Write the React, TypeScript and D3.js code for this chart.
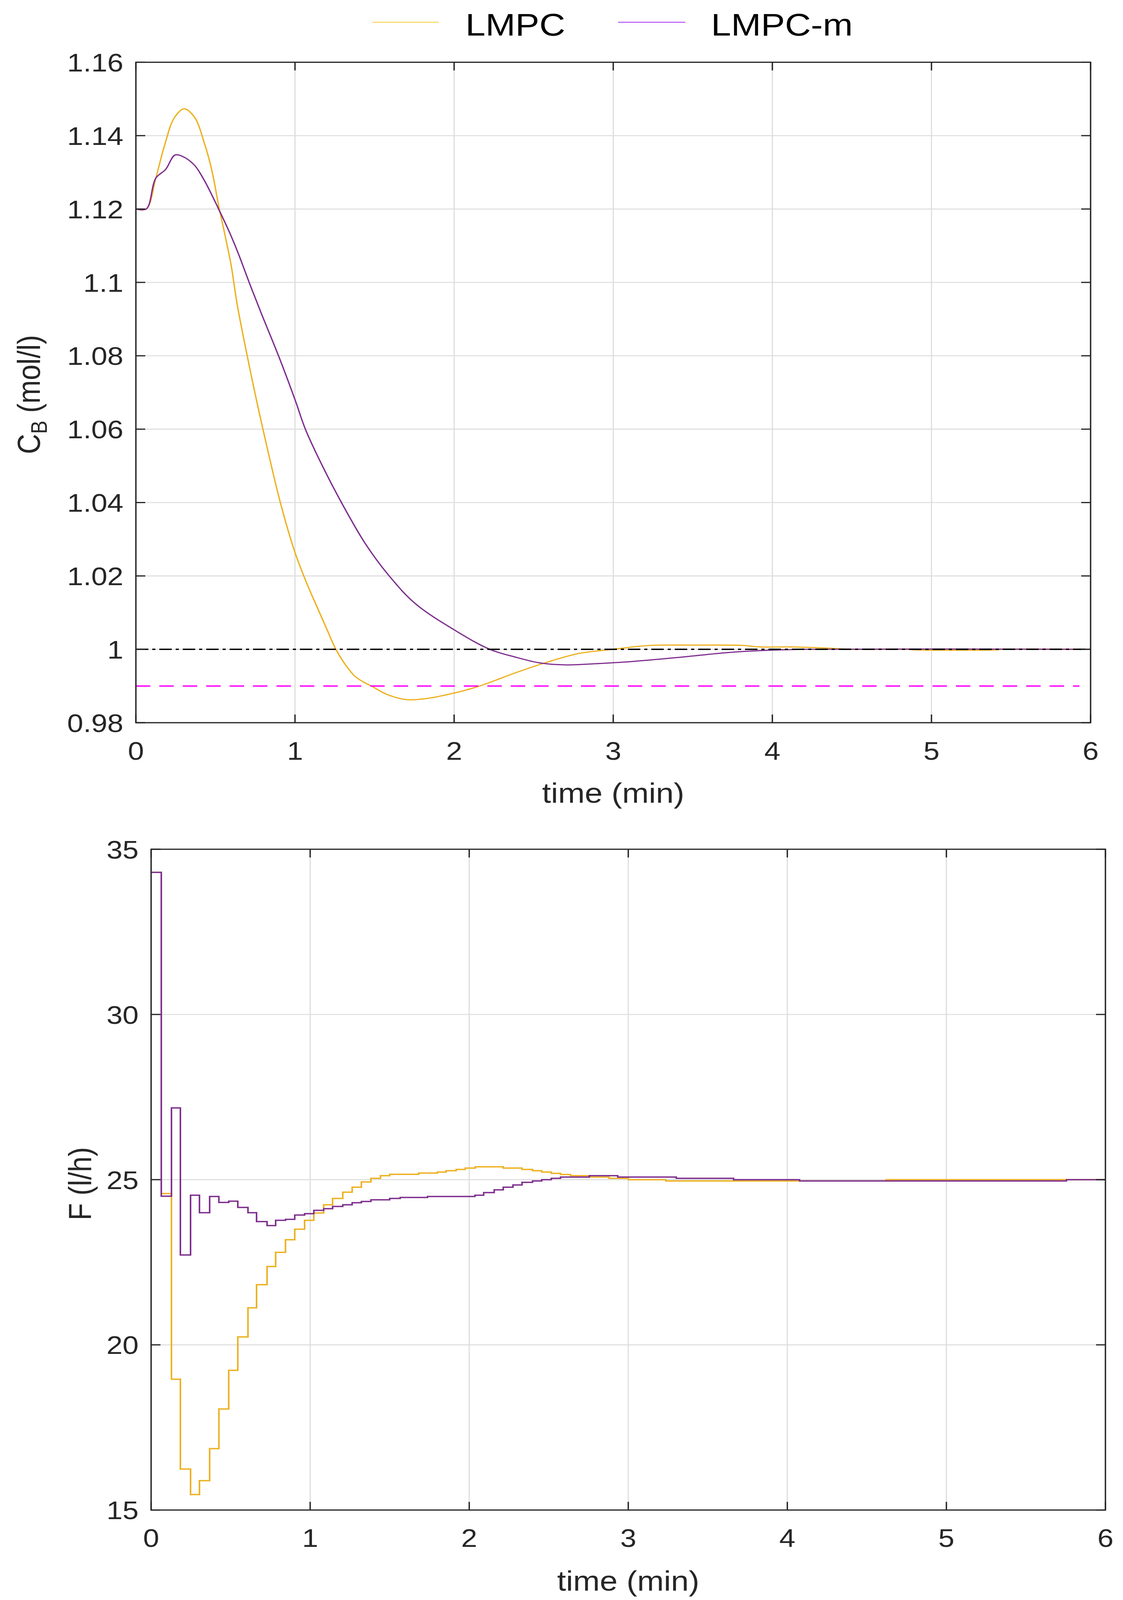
import React, { useEffect, useState } from 'react';
import * as d3 from 'd3';

const W = 2876;
const H = 4678;

// ---------- Top panel: C_B (mol/l) ----------
const timeCB_LMPC = [0, 0.065, 0.125, 0.18, 0.242, 0.304, 0.37, 0.43, 0.476, 0.523, 0.562, 0.599, 0.637, 0.702, 0.749, 0.8, 0.852, 0.908, 0.993, 1.067, 1.136, 1.2, 1.257, 1.32, 1.378, 1.43, 1.48, 1.58, 1.7, 1.82, 1.98, 2.16, 2.385, 2.566, 2.788, 3.0, 3.23, 3.51, 3.815, 3.92, 4.12, 4.36, 4.5, 4.85, 4.9, 5.4, 5.45, 6.0];
const cb_LMPC = [1.12, 1.12, 1.1284, 1.1373, 1.1449, 1.1473, 1.1449, 1.138, 1.1308, 1.1203, 1.1125, 1.1046, 1.0939, 1.0795, 1.0697, 1.0597, 1.0499, 1.04, 1.0273, 1.0187, 1.0118, 1.0055, 1.0, 0.9956, 0.9926, 0.9911, 0.99, 0.98767, 0.9863, 0.98655, 0.98788, 0.99, 0.9936, 0.99624, 0.9989, 1.0, 1.00106, 1.00114, 1.00106, 1.00065, 1.00065, 1.0003, 1.0, 1.0, 0.99985, 0.99985, 1.0, 1.0];

const timeCB_LMPCm = [0, 0.065, 0.125, 0.187, 0.245, 0.29, 0.367, 0.43, 0.49, 0.52, 0.593, 0.647, 0.712, 0.787, 0.9, 1.002, 1.067, 1.18, 1.292, 1.442, 1.592, 1.76, 2.02, 2.224, 2.385, 2.546, 2.707, 2.87, 3.11, 3.43, 3.715, 3.956, 4.2, 6.0];
const cb_LMPCm = [1.12, 1.12, 1.1284, 1.1308, 1.1347, 1.1344, 1.132, 1.1278, 1.1227, 1.12, 1.1132, 1.1075, 1.1, 1.0917, 1.0796, 1.0678, 1.0598, 1.0493, 1.04, 1.0288, 1.02, 1.0123, 1.0048, 1.0, 0.99788, 0.99624, 0.99575, 0.99604, 0.99665, 0.99788, 0.9991, 0.99971, 1.0, 1.0];

const cbSetpoint = 1.0;
const cbBound = 0.99;
const boundTimeRange = [0, 5.93];
const cbTicks = [0.98, 1.0, 1.02, 1.04, 1.06, 1.08, 1.1, 1.12, 1.14, 1.16];
const cbTickLabels = ['0.98', '1', '1.02', '1.04', '1.06', '1.08', '1.1', '1.12', '1.14', '1.16'];

// ---------- Bottom panel: F (l/h), piecewise-constant inputs ----------
const stepTime_LMPC = [0, 0.064, 0.128, 0.184, 0.248, 0.304, 0.368, 0.426, 0.488, 0.545, 0.609, 0.663, 0.729, 0.783, 0.845, 0.903, 0.965, 1.023, 1.085, 1.141, 1.205, 1.264, 1.322, 1.382, 1.442, 1.5, 1.682, 1.8, 1.854, 1.918, 1.975, 2.038, 2.214, 2.332, 2.398, 2.456, 2.516, 2.574, 2.637, 2.761, 2.879, 3.0, 3.236, 4.621];
const F_LMPC = [34.3, 24.58, 18.96, 16.24, 15.47, 15.89, 16.86, 18.06, 19.23, 20.24, 21.12, 21.82, 22.37, 22.8, 23.18, 23.5, 23.77, 23.99, 24.24, 24.43, 24.62, 24.77, 24.93, 25.04, 25.12, 25.16, 25.2, 25.23, 25.27, 25.31, 25.35, 25.39, 25.35, 25.31, 25.27, 25.23, 25.19, 25.155, 25.12, 25.08, 25.04, 25.0, 24.96, 25.0];

const stepTime_LMPCm = [0, 0.064, 0.128, 0.184, 0.248, 0.304, 0.368, 0.426, 0.488, 0.545, 0.609, 0.663, 0.729, 0.783, 0.845, 0.903, 0.965, 1.023, 1.085, 1.141, 1.205, 1.264, 1.322, 1.382, 1.5, 1.566, 1.738, 2.036, 2.091, 2.157, 2.214, 2.275, 2.332, 2.398, 2.456, 2.516, 2.574, 2.755, 2.934, 3.302, 3.662, 4.077, 5.755];
const F_LMPCm = [34.3, 24.5, 27.17, 22.72, 24.53, 24.0, 24.49, 24.31, 24.35, 24.16, 24.0, 23.73, 23.61, 23.77, 23.8, 23.93, 23.97, 24.07, 24.12, 24.19, 24.24, 24.3, 24.34, 24.39, 24.43, 24.46, 24.49, 24.53, 24.61, 24.69, 24.77, 24.84, 24.92, 24.96, 25.0, 25.04, 25.08, 25.12, 25.08, 25.04, 25.0, 24.96, 25.0];

const fTicks = [15, 20, 25, 30, 35];
const timeTicks = [0, 1, 2, 3, 4, 5, 6];
const timeEnd = 6;

const seriesNames = ['LMPC', 'LMPC-m'];

// ---------- styling ----------
const FONT = "'Liberation Sans', Arial, Helvetica, sans-serif";
const AXIS = '#262626';
const GRID = '#dedede';
const C_LMPC = '#EDB120';
const C_LMPCm = '#7E2F8E';
const LEGEND_COLORS = ['#F7C81A', '#9B12F2'];

type Frame = { x0: number; x1: number; y0: number; y1: number };

const topFrame: Frame = { x0: 348, x1: 2793, y0: 182, y1: 2113 };
const botFrame: Frame = { x0: 387, x1: 2831, y0: 2483, y1: 4415 };

const TICK_LEN = 24;
const TICK_FS = 74;
const LABEL_FS = 82;

function Axes({ f, y, yTicks, yLabels, x }: { f: Frame; y: d3.ScaleLinear<number, number>; yTicks: number[]; yLabels: string[]; x: d3.ScaleLinear<number, number> }) {
  return (
    <g>
      {timeTicks.map((t) => (
        <g key={'xt' + t}>
          <line x1={x(t)} x2={x(t)} y1={f.y1} y2={f.y1 - TICK_LEN} stroke={AXIS} strokeWidth={3.5} />
          <line x1={x(t)} x2={x(t)} y1={f.y0} y2={f.y0 + TICK_LEN} stroke={AXIS} strokeWidth={3.5} />
          <text x={x(t)} y={f.y1 + 108} textAnchor="middle" fontSize={TICK_FS} fill={AXIS} fontFamily={FONT}>{String(t)}</text>
        </g>
      ))}
      {yTicks.map((v, i) => (
        <g key={'yt' + i}>
          <line x1={f.x0} x2={f.x0 + TICK_LEN} y1={y(v)} y2={y(v)} stroke={AXIS} strokeWidth={3.5} />
          <line x1={f.x1} x2={f.x1 - TICK_LEN} y1={y(v)} y2={y(v)} stroke={AXIS} strokeWidth={3.5} />
          <text x={f.x0 - 32} y={y(v) + 27} textAnchor="end" fontSize={TICK_FS} fill={AXIS} fontFamily={FONT}>{yLabels[i]}</text>
        </g>
      ))}
      <rect x={f.x0} y={f.y0} width={f.x1 - f.x0} height={f.y1 - f.y0} fill="none" stroke={AXIS} strokeWidth={3.5} />
    </g>
  );
}

function Grid({ f, y, yTicks, x }: { f: Frame; y: d3.ScaleLinear<number, number>; yTicks: number[]; x: d3.ScaleLinear<number, number> }) {
  return (
    <g>
      {timeTicks.map((t) => (
        <line key={'gx' + t} x1={x(t)} x2={x(t)} y1={f.y0} y2={f.y1} stroke={GRID} strokeWidth={3} />
      ))}
      {yTicks.map((v, i) => (
        <line key={'gy' + i} x1={f.x0} x2={f.x1} y1={y(v)} y2={y(v)} stroke={GRID} strokeWidth={3} />
      ))}
    </g>
  );
}

export default function App() {
  // the browser viewport may be shorter than the requested page; fit the whole chart into it
  const [viewH, setViewH] = useState<number>(Math.min(H, typeof window !== 'undefined' ? window.innerHeight || H : H));
  useEffect(() => {
    document.body.style.margin = '0';
    document.body.style.padding = '0';
    document.body.style.background = '#ffffff';
    document.body.style.overflow = 'hidden';
    setViewH(Math.min(H, window.innerHeight || H));
  }, []);

  const xTop = d3.scaleLinear().domain([0, 6]).range([topFrame.x0, topFrame.x1]);
  const yTop = d3.scaleLinear().domain([0.98, 1.16]).range([topFrame.y1, topFrame.y0]);
  const xBot = d3.scaleLinear().domain([0, 6]).range([botFrame.x0, botFrame.x1]);
  const yBot = d3.scaleLinear().domain([15, 35]).range([botFrame.y1, botFrame.y0]);

  const lineTop = d3
    .line<[number, number]>()
    .x((d) => xTop(d[0]))
    .y((d) => yTop(d[1]))
    .curve(d3.curveCatmullRom.alpha(0.5));

  const stepLine = d3
    .line<[number, number]>()
    .x((d) => xBot(d[0]))
    .y((d) => yBot(d[1]))
    .curve(d3.curveStepAfter);

  const cbA = timeCB_LMPC.map((t, i) => [t, cb_LMPC[i]] as [number, number]);
  const cbB = timeCB_LMPCm.map((t, i) => [t, cb_LMPCm[i]] as [number, number]);
  const fA = stepTime_LMPC.map((t, i) => [t, F_LMPC[i]] as [number, number]);
  fA.push([timeEnd, F_LMPC[F_LMPC.length - 1]]);
  const fB = stepTime_LMPCm.map((t, i) => [t, F_LMPCm[i]] as [number, number]);
  fB.push([timeEnd, F_LMPCm[F_LMPCm.length - 1]]);

  const legendItems = [
    { name: seriesNames[0], lx0: 954, lx1: 1124, tx: 1192, color: LEGEND_COLORS[0] },
    { name: seriesNames[1], lx0: 1583, lx1: 1755, tx: 1821, color: LEGEND_COLORS[1] },
  ];

  return (
    <svg
      width={W}
      height={viewH}
      viewBox={`0 0 ${W} ${H}`}
      preserveAspectRatio="none"
      style={{ display: 'block', background: '#ffffff' }}
      xmlns="http://www.w3.org/2000/svg"
    >
      <rect x={0} y={0} width={W} height={H} fill="#ffffff" />

      {/* Legend */}
      {legendItems.map((it) => (
        <g key={it.name}>
          <line x1={it.lx0} x2={it.lx1} y1={65} y2={65} stroke={it.color} strokeWidth={2} />
          <text x={it.tx} y={104} fontSize={92} fontFamily={FONT} fill="#000">{it.name}</text>
        </g>
      ))}

      {/* Top panel */}
      <Grid f={topFrame} y={yTop} yTicks={cbTicks} x={xTop} />
      <path d={lineTop(cbA) || ''} fill="none" stroke={C_LMPC} strokeWidth={3.5} strokeLinejoin="round" />
      <path d={lineTop(cbB) || ''} fill="none" stroke={C_LMPCm} strokeWidth={3.5} strokeLinejoin="round" />
      <line x1={xTop(0)} x2={xTop(6)} y1={yTop(cbSetpoint)} y2={yTop(cbSetpoint)} stroke="#000" strokeWidth={4} strokeDasharray="32 10 8 10" />
      <line x1={xTop(boundTimeRange[0])} x2={xTop(boundTimeRange[1])} y1={yTop(cbBound)} y2={yTop(cbBound)} stroke="#FF00FF" strokeWidth={4} strokeDasharray="37 23" />
      <Axes f={topFrame} y={yTop} yTicks={cbTicks} yLabels={cbTickLabels} x={xTop} />
      <text x={(topFrame.x0 + topFrame.x1) / 2} y={topFrame.y1 + 234} textAnchor="middle" fontSize={LABEL_FS} fontFamily={FONT} fill={AXIS}>time (min)</text>
      <text transform={`translate(102, ${(topFrame.y0 + topFrame.y1) / 2 + 6}) rotate(-90)`} textAnchor="middle" fontSize={LABEL_FS} fontFamily={FONT} fill={AXIS}>
        C<tspan fontSize={58} dy={18}>B</tspan><tspan dy={-18}> (mol/l)</tspan>
      </text>

      {/* Bottom panel */}
      <Grid f={botFrame} y={yBot} yTicks={fTicks} x={xBot} />
      <path d={stepLine(fA) || ''} fill="none" stroke={C_LMPC} strokeWidth={4} />
      <path d={stepLine(fB) || ''} fill="none" stroke={C_LMPCm} strokeWidth={4} />
      <Axes f={botFrame} y={yBot} yTicks={fTicks} yLabels={fTicks.map(String)} x={xBot} />
      <text x={(botFrame.x0 + botFrame.x1) / 2} y={botFrame.y1 + 236} textAnchor="middle" fontSize={LABEL_FS} fontFamily={FONT} fill={AXIS}>time (min)</text>
      <text transform={`translate(233, ${(botFrame.y0 + botFrame.y1) / 2 + 12}) rotate(-90)`} textAnchor="middle" fontSize={LABEL_FS} fontFamily={FONT} fill={AXIS}>F (l/h)</text>
    </svg>
  );
}
